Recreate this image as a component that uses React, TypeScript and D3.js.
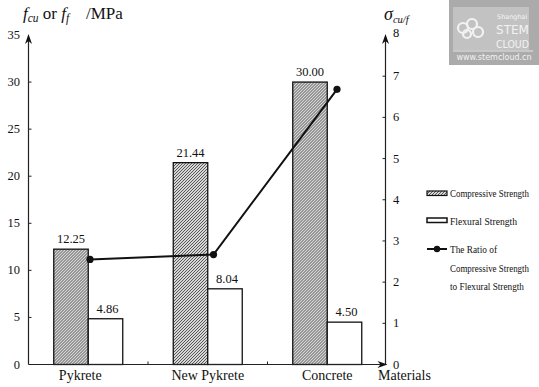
import React, { useEffect, useRef } from 'react';
import * as d3 from 'd3';

const categories = ['Pykrete', 'New Pykrete', 'Concrete'];
const compressive = [12.25, 21.44, 30.0];
const flexural = [4.86, 8.04, 4.5];
const ratio = [2.55, 2.67, 6.68];
const leftTicks = [0, 5, 10, 15, 20, 25, 30, 35];
const rightTicks = [0, 1, 2, 3, 4, 5, 6, 7, 8];

const W = 539;
const H = 387;
const FONT = 'Liberation Serif, Times New Roman, serif';

const App: React.FC = () => {
  const svgRef = useRef<SVGSVGElement>(null);

  useEffect(() => {
    if (!svgRef.current) return;
    const svg = d3.select(svgRef.current);
    svg.selectAll('*').remove();

    const left = 28.5;
    const right = 385.5;
    const top = 35;
    const bottom = 364.5;

    const x0 = d3.scaleBand().domain(categories).range([left, left + 358.5]).padding(0);
    const x1 = d3.scaleBand().domain(['c', 'f']).range([0, x0.bandwidth()])
      .paddingInner(0).paddingOuter(0.732);
    const yL = d3.scaleLinear().domain([0, 35]).range([bottom, top]);
    const yR = d3.scaleLinear().domain([0, 8]).range([bottom, top]);
    // the ratio points sit a little to the right of the bar joints
    const xLine = d3.scalePoint().domain(categories).range([90, 337]);

    // hatch for compressive bars
    const defs = svg.append('defs');
    const pat = defs.append('pattern')
      .attr('id', 'hatch')
      .attr('patternUnits', 'userSpaceOnUse')
      .attr('width', 3).attr('height', 3);
    pat.append('rect').attr('width', 3).attr('height', 3).attr('fill', '#d6d6d6');
    pat.append('path')
      .attr('d', 'M-1,1 L1,-1 M0,3 L3,0 M2,4 L4,2')
      .attr('stroke', '#4a4a4a').attr('stroke-width', 0.9);

    svg.append('rect').attr('width', W).attr('height', H).attr('fill', '#fff');

    const g = svg.append('g').style('font-family', FONT).attr('fill', '#111');

    // bars
    const groups = g.selectAll('g.grp')
      .data(categories)
      .enter()
      .append('g')
      .attr('transform', d => `translate(${x0(d)},0)`);

    groups.append('rect')
      .attr('x', x1('c')!)
      .attr('y', (_, i) => yL(compressive[i]))
      .attr('width', x1.bandwidth())
      .attr('height', (_, i) => bottom - yL(compressive[i]))
      .attr('fill', 'url(#hatch)')
      .attr('stroke', '#111').attr('stroke-width', 1.3);

    groups.append('rect')
      .attr('x', x1('f')!)
      .attr('y', (_, i) => yL(flexural[i]))
      .attr('width', x1.bandwidth())
      .attr('height', (_, i) => bottom - yL(flexural[i]))
      .attr('fill', '#fff')
      .attr('stroke', '#111').attr('stroke-width', 1.3);

    groups.append('text')
      .attr('x', x1('c')! + x1.bandwidth() / 2)
      .attr('y', (_, i) => yL(compressive[i]) - 6)
      .attr('text-anchor', 'middle')
      .attr('font-size', 12.5)
      .text((_, i) => compressive[i].toFixed(2));

    groups.append('text')
      .attr('x', x1('f')! + x1.bandwidth() / 2 + 2)
      .attr('y', (_, i) => yL(flexural[i]) - 6)
      .attr('text-anchor', 'middle')
      .attr('font-size', 12.5)
      .text((_, i) => flexural[i].toFixed(2));

    // ratio line
    const line = d3.line<number>()
      .x((_, i) => xLine(categories[i])!)
      .y(d => yR(d));
    g.append('path')
      .datum(ratio)
      .attr('d', line)
      .attr('fill', 'none')
      .attr('stroke', '#111')
      .attr('stroke-width', 2);
    g.selectAll('circle.pt')
      .data(ratio)
      .enter()
      .append('circle')
      .attr('cx', (_, i) => xLine(categories[i])!)
      .attr('cy', d => yR(d))
      .attr('r', 3.6)
      .attr('fill', '#111');

    // axes
    const axisStroke = '#222';
    g.append('line').attr('x1', left).attr('x2', left).attr('y1', bottom).attr('y2', top + 2)
      .attr('stroke', axisStroke).attr('stroke-width', 1.2);
    g.append('path').attr('d', `M${left},${top - 1} L${left - 3.5},${top + 9} L${left},${top + 6} L${left + 3.5},${top + 9} Z`)
      .attr('fill', '#111');
    g.append('line').attr('x1', right).attr('x2', right).attr('y1', bottom).attr('y2', top + 2)
      .attr('stroke', axisStroke).attr('stroke-width', 1.2);
    g.append('path').attr('d', `M${right},${top - 1} L${right - 3.5},${top + 9} L${right},${top + 6} L${right + 3.5},${top + 9} Z`)
      .attr('fill', '#111');
    g.append('line').attr('x1', left).attr('x2', right).attr('y1', bottom).attr('y2', bottom)
      .attr('stroke', axisStroke).attr('stroke-width', 1.2);
    g.append('path').attr('d', `M${right + 2},${bottom} L${right - 8},${bottom - 3.5} L${right - 5},${bottom} L${right - 8},${bottom + 3.5} Z`)
      .attr('fill', '#111');

    // left ticks
    leftTicks.forEach(t => {
      if (t > 0 && t < 35) {
        g.append('line').attr('x1', left).attr('x2', left + 3).attr('y1', yL(t)).attr('y2', yL(t))
          .attr('stroke', axisStroke);
      }
      g.append('text')
        .attr('x', 20).attr('y', yL(t) + 4)
        .attr('text-anchor', 'end').attr('font-size', 12.5)
        .text(t);
    });

    // right ticks
    rightTicks.forEach(t => {
      if (t > 0 && t < 8) {
        g.append('line').attr('x1', right - 3).attr('x2', right).attr('y1', yR(t)).attr('y2', yR(t))
          .attr('stroke', axisStroke);
      }
      g.append('text')
        .attr('x', 393).attr('y', yR(t) + (t === 8 ? 2 : 4))
        .attr('font-size', 12.5)
        .text(t);
    });

    // x ticks between categories
    categories.slice(1).forEach(c => {
      g.append('line').attr('x1', x0(c)!).attr('x2', x0(c)!).attr('y1', bottom).attr('y2', bottom - 3)
        .attr('stroke', axisStroke);
    });

    categories.forEach((c, i) => {
      g.append('text')
        .attr('x', x0(c)! + x0.bandwidth() / 2 - (i === 0 ? 8 : 0))
        .attr('y', 380)
        .attr('text-anchor', 'middle')
        .attr('font-size', 14)
        .text(c);
    });
    g.append('text').attr('x', 378).attr('y', 380).attr('font-size', 14).text('Materials');

    // axis titles
    const tl = g.append('text').attr('x', 23).attr('y', 19).attr('font-size', 17);
    tl.append('tspan').attr('font-style', 'italic').text('f');
    tl.append('tspan').attr('font-style', 'italic').attr('font-size', 11.5).attr('dy', 3).text('cu');
    tl.append('tspan').attr('dy', -3).text(' or ');
    tl.append('tspan').attr('font-style', 'italic').text('f');
    tl.append('tspan').attr('font-style', 'italic').attr('font-size', 11.5).attr('dy', 3).text('f');
    tl.append('tspan').attr('dy', -3).attr('x', 86).text('/MPa');

    const tr = g.append('text').attr('x', 384).attr('y', 20).attr('font-size', 18);
    tr.append('tspan').attr('font-style', 'italic').text('σ');
    tr.append('tspan').attr('font-style', 'italic').attr('font-size', 10.5).attr('dy', 3).text('cu/f');

    // legend
    const lx = 427;
    const lg = g.append('g').attr('font-size', 11);
    const legendText = (y: number, s: string, len: number) =>
      lg.append('text').attr('x', 450).attr('y', y)
        .attr('textLength', len).attr('lengthAdjust', 'spacingAndGlyphs').text(s);
    lg.append('rect').attr('x', lx).attr('y', 191).attr('width', 20).attr('height', 4.5)
      .attr('fill', 'url(#hatch)').attr('stroke', '#111').attr('stroke-width', 1.2);
    legendText(197, 'Compressive Strength', 79);
    lg.append('rect').attr('x', lx).attr('y', 218).attr('width', 20).attr('height', 4.5)
      .attr('fill', '#fff').attr('stroke', '#111').attr('stroke-width', 1.5);
    legendText(225, 'Flexural Strength', 67);
    lg.append('line').attr('x1', lx).attr('x2', lx + 20).attr('y1', 249).attr('y2', 249)
      .attr('stroke', '#111').attr('stroke-width', 2);
    lg.append('circle').attr('cx', lx + 10).attr('cy', 249).attr('r', 3.2).attr('fill', '#111');
    legendText(253, 'The Ratio of', 47);
    legendText(272, 'Compressive Strength', 79);
    legendText(290, 'to Flexural Strength', 74);

    // watermark
    const wm = svg.append('g').style('font-family', 'DejaVu Sans, sans-serif');
    wm.append('rect').attr('x', 449).attr('y', 0).attr('width', 90).attr('height', 65).attr('fill', '#ababab');
    wm.append('rect').attr('x', 453).attr('y', 7).attr('width', 76).attr('height', 43).attr('fill', '#c2c2c2');
    wm.append('line').attr('x1', 453).attr('x2', 533).attr('y1', 51).attr('y2', 51).attr('stroke', '#e6e6e6');
    [[463, 28, 5], [472, 24, 5], [478, 32, 5], [467, 34, 4]].forEach(([cx, cy, r]) => {
      wm.append('circle').attr('cx', cx).attr('cy', cy).attr('r', r)
        .attr('fill', 'none').attr('stroke', '#f2f2f2').attr('stroke-width', 2.2);
    });
    wm.append('text').attr('x', 497).attr('y', 19).attr('font-size', 6.5).attr('fill', '#f2f2f2').text('Shanghai');
    wm.append('text').attr('x', 496).attr('y', 34).attr('font-size', 12.5).attr('fill', '#f2f2f2')
      .attr('textLength', 33).attr('lengthAdjust', 'spacingAndGlyphs').text('STEM');
    wm.append('text').attr('x', 496).attr('y', 47.5).attr('font-size', 11).attr('fill', '#f2f2f2')
      .attr('textLength', 33).attr('lengthAdjust', 'spacingAndGlyphs').text('CLOUD');
    wm.append('text').attr('x', 494).attr('y', 60).attr('font-size', 8).attr('text-anchor', 'middle')
      .attr('fill', '#f2f2f2').text('www.stemcloud.cn');
  }, []);

  return (
    <svg
      ref={svgRef}
      width={W}
      height={H}
      style={{ position: 'absolute', left: 0, top: 0, fontFamily: FONT }}
    />
  );
};

export default App;
